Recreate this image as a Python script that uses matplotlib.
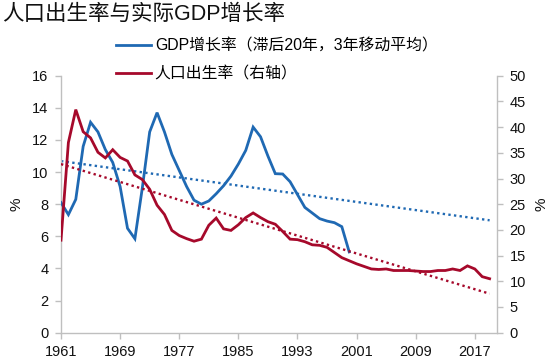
import numpy as np
import matplotlib
matplotlib.use("Agg")
import matplotlib.pyplot as plt

plt.rcParams['font.family'] = ['Liberation Sans', 'Noto Sans CJK SC', 'DejaVu Sans']

title = "人口出生率与实际GDP增长率"
label_gdp = "GDP增长率（滞后20年，3年移动平均）"
label_birth = "人口出生率（右轴）"

gdp_years = list(range(1961, 2001))
gdp_growth = [8.1, 7.35, 8.3, 11.6, 13.1, 12.5, 11.4, 10.6, 9.1, 6.5,
              5.85, 9.0, 12.5, 13.7, 12.5, 11.1, 10.1, 9.1, 8.25, 8.0,
              8.2, 8.65, 9.15, 9.75, 10.5, 11.35, 12.8, 12.2, 11.0, 9.9,
              9.88, 9.4, 8.6, 7.8, 7.45, 7.1, 6.95, 6.85, 6.6, 5.03]

birth_years = list(range(1961, 2020))
birth_rate = [18.0, 37.0, 43.4, 39.1, 37.9, 35.1, 34.0, 35.6, 34.1, 33.4,
              30.7, 29.8, 27.9, 24.8, 23.0, 19.9, 18.9, 18.3, 17.8, 18.2,
              20.9, 22.3, 20.2, 19.9, 21.0, 22.4, 23.3, 22.4, 21.6, 21.1,
              19.7, 18.2, 18.1, 17.7, 17.1, 17.0, 16.6, 15.6, 14.6, 14.0,
              13.4, 12.9, 12.4, 12.3, 12.4, 12.1, 12.1, 12.1, 12.0, 11.9,
              11.9, 12.1, 12.1, 12.4, 12.1, 13.0, 12.4, 10.9, 10.5]

x_ticks = [1961, 1969, 1977, 1985, 1993, 2001, 2009, 2017]

blue = "#1F69B3"
red = "#A6092B"
grey = "#BFBFBF"

fig = plt.figure(figsize=(5.5, 3.6), dpi=100)
ax = fig.add_axes([61/550, 1 - 332.7/360, (497-61)/550, (332.7-75.7)/360])
ax2 = ax.twinx()

ax.plot(gdp_years, gdp_growth, color=blue, lw=2.0, solid_joinstyle='miter', zorder=3)
ax2.plot(birth_years, birth_rate, color=red, lw=2.0, solid_joinstyle='miter', zorder=3)

# linear trendlines
trend_x = np.array(birth_years, dtype=float)
pb = np.polyfit(gdp_years, gdp_growth, 1)
ax.plot(trend_x, np.polyval(pb, trend_x), color=blue, lw=1.7,
        linestyle=(0, (1, 1.4)), zorder=2)
pr = np.polyfit(birth_years, birth_rate, 1)
ax2.plot(trend_x, np.polyval(pr, trend_x), color=red, lw=1.7,
         linestyle=(0, (1, 1.4)), zorder=2)

ax.set_xlim(1961, 2020)
ax.set_ylim(0, 16)
ax2.set_ylim(0, 50)
ax.set_yticks(np.arange(0, 17, 2))
ax2.set_yticks(np.arange(0, 51, 5))
ax.set_xticks(x_ticks)
ax.set_xticklabels([str(t) for t in x_ticks])

for a in (ax, ax2):
    a.spines['top'].set_visible(False)
    for s in ('left', 'right', 'bottom'):
        a.spines[s].set_color(grey)
        a.spines[s].set_linewidth(1.0)
    a.tick_params(axis='both', colors=grey, labelcolor='#111111', labelsize=10.5,
                  length=4, width=1.0, direction='out')
ax.spines['right'].set_visible(False)
ax2.spines['left'].set_visible(False)
ax2.spines['bottom'].set_visible(False)
ax.tick_params(axis='y', pad=5)
ax2.tick_params(axis='y', pad=5)
ax.tick_params(axis='x', pad=5)

ax.set_ylabel("%", fontsize=11, color='#111111', labelpad=6)
ax2.set_ylabel("%", fontsize=11, color='#111111', labelpad=6)

fig.text(0.004, 1 - 14/360, title, fontsize=15.5, va='center', ha='left', color='#111111')

h1, = ax.plot([], [], color=blue, lw=2.0)
h2, = ax.plot([], [], color=red, lw=2.0)
fig.legend([h1, h2], [label_gdp, label_birth], loc='upper left',
           bbox_to_anchor=(116/550, 1 - 38/360), frameon=False, fontsize=11.4,
           handlelength=2.2, handletextpad=0.25, labelspacing=0.85, borderpad=0,
           borderaxespad=0)

fig.savefig("out.png", dpi=100)
